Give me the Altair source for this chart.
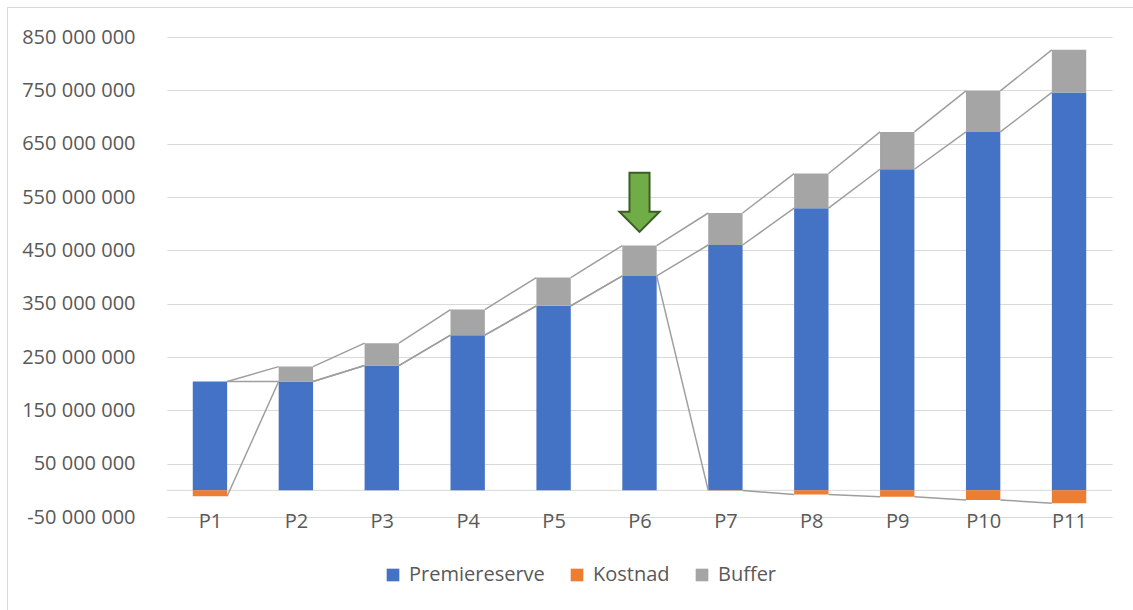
import json

import altair as alt
import pandas as pd

# Periods and the three stacked components (SEK)
periods = ["P1", "P2", "P3", "P4", "P5", "P6", "P7", "P8", "P9", "P10", "P11"]
premiereserve = [204_000_000, 204_000_000, 234_000_000, 291_000_000, 346_000_000,
                 402_000_000, 460_000_000, 529_000_000, 602_000_000, 672_000_000,
                 746_000_000]
kostnad = [-11_000_000, 0, 0, 0, 0, 0, -200_000, -8_000_000, -12_000_000,
           -18_000_000, -24_000_000]
buffer = [0, 28_000_000, 42_000_000, 48_000_000, 53_000_000, 57_000_000,
          60_000_000, 65_000_000, 70_000_000, 77_000_000, 80_000_000]

series_names = ["Premiereserve", "Kostnad", "Buffer"]
series_colors = ["#4472C4", "#ED7D31", "#A5A5A5"]
y_ticks = list(range(-50_000_000, 850_000_001, 100_000_000))

# Marker above the sixth period
marker_period = 6
marker_value = 540_000_000

BAR_HALF = 0.2          # half bar width, in category units
TEXT = "#595959"
FONT = "Open Sans"

# Stack like a spreadsheet column chart: positives grow upwards from zero,
# negatives grow downwards; remember where each series ends in every column.
seg_rows = []
ends = {s: [] for s in series_names}
for i, _ in enumerate(periods):
    pos_top, neg_top = 0, 0
    for s, vals in zip(series_names, [premiereserve, kostnad, buffer]):
        v = vals[i]
        if v >= 0:
            start, end = pos_top, pos_top + v
            pos_top = end
        else:
            start, end = neg_top, neg_top + v
            neg_top = end
        seg_rows.append({"left": i + 1 - BAR_HALF, "right": i + 1 + BAR_HALF,
                         "lo": start, "hi": end, "series": s})
        ends[s].append(end)
segments = pd.DataFrame(seg_rows)

# Series lines joining the end of each series from one column to the next
line_rows = []
for s in series_names:
    for i in range(len(periods) - 1):
        line_rows.append({"x": i + 1 + BAR_HALF, "x2": i + 2 - BAR_HALF,
                          "y": ends[s][i], "y2": ends[s][i + 1], "series": s})
series_lines = pd.DataFrame(line_rows)

x_scale = alt.Scale(domain=[0.5, len(periods) + 0.5], nice=False, zero=False)
y_scale = alt.Scale(domain=[-50_000_000, 850_000_000], nice=False, zero=False)

x_axis = alt.Axis(
    values=list(range(1, len(periods) + 1)),
    labelExpr=f"{json.dumps(periods)}[datum.value - 1]",
    grid=False, domain=False, ticks=False, title=None,
    labelFont=FONT, labelFontSize=20, labelColor=TEXT,
    labelBaseline="middle", labelPadding=4,
)
y_axis = alt.Axis(
    values=y_ticks,
    labelExpr="replace(replace(replace(format(datum.value, ','), ',', ' '), ',', ' '), '\u2212', '-')",
    grid=True, gridColor="#D9D9D9", gridWidth=1,
    domain=False, ticks=False, title=None,
    labelFont=FONT, labelFontSize=20, labelColor=TEXT, labelPadding=32,
)

frame = alt.Chart(pd.DataFrame({"k": [0]})).mark_rect(
    fillOpacity=0, stroke="#D9D9D9", strokeWidth=1
).encode(
    x=alt.value(-159.5), x2=alt.value(990),
    y=alt.value(-29.5), y2=alt.value(600),
)

zero_line = alt.Chart(pd.DataFrame({"zero": [0]})).mark_rule(
    color="#D9D9D9", strokeWidth=1
).encode(y=alt.Y("zero:Q", scale=y_scale, axis=y_axis))

bars = alt.Chart(segments).mark_rect(strokeWidth=0).encode(
    x=alt.X("left:Q", scale=x_scale, axis=x_axis),
    x2="right:Q",
    y=alt.Y("lo:Q", scale=y_scale, axis=y_axis),
    y2="hi:Q",
    color=alt.Color(
        "series:N",
        scale=alt.Scale(domain=series_names, range=series_colors),
        sort=series_names,
        legend=alt.Legend(
            orient="none", legendX=216, legendY=528, direction="horizontal",
            title=None, symbolType="square", symbolSize=160,
            symbolStrokeWidth=0, labelFont=FONT, labelFontSize=20,
            labelColor=TEXT, columnPadding=22, labelOffset=6, padding=0,
        ),
    ),
)

lines = alt.Chart(series_lines).mark_rule(color="#9E9E9E", strokeWidth=1.5).encode(
    x=alt.X("x:Q", scale=x_scale, axis=x_axis),
    x2="x2:Q",
    y=alt.Y("y:Q", scale=y_scale, axis=y_axis),
    y2="y2:Q",
)

ARROW = "M -0.34 -1 L 0.34 -1 L 0.34 0.32 L 0.68 0.32 L 0 1 L -0.68 0.32 L -0.34 0.32 Z"
arrow = alt.Chart(pd.DataFrame({"p": [marker_period], "v": [marker_value]})).mark_point(
    shape=ARROW, size=3481, filled=True, fill="#70AD47", stroke="#3B5E26",
    strokeWidth=2, opacity=1,
).encode(
    x=alt.X("p:Q", scale=x_scale, axis=x_axis),
    y=alt.Y("v:Q", scale=y_scale, axis=y_axis),
)

chart = alt.layer(frame, zero_line, bars, lines, arrow).properties(
    width=945, height=480,
    padding={"left": 167, "top": 37, "right": 21, "bottom": 93},
    autosize=alt.AutoSizeParams(type="none"),
    background="white",
).configure_view(strokeWidth=0)

chart.save("out.html", embed_options={"renderer": "svg", "actions": False})
